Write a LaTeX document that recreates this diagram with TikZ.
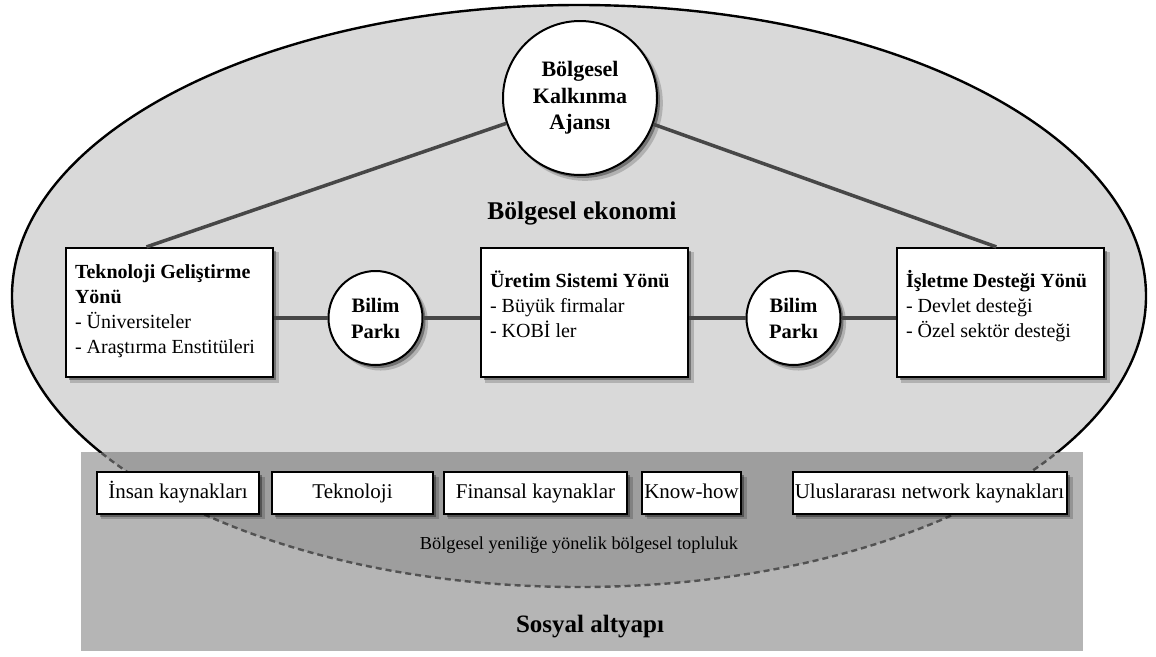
\documentclass[tikz,border=0pt]{standalone}
\usepackage{fontspec}
\setmainfont{Liberation Serif}
\usetikzlibrary{shadows,calc}

\definecolor{ecofill}{gray}{0.85}
\definecolor{basefill}{gray}{0.71}
\definecolor{overlapfill}{gray}{0.62}
\definecolor{linkgray}{gray}{0.28}
\definecolor{dashgray}{gray}{0.32}
\newcommand{\boxtextfont}{\fontsize{20}{25}\selectfont}

\begin{document}
\begin{tikzpicture}[x=1pt,y=-1pt,
  softshadow/.style={
    drop shadow={shadow xshift=5pt,shadow yshift=-5pt,shadow scale=1.01,opacity=0.18,fill=black},
    drop shadow={shadow xshift=3pt,shadow yshift=-3pt,opacity=0.35,fill=black}},
  yonbox/.style={draw=black,line width=2.2pt,fill=white,inner sep=0pt,
    minimum width=207pt,minimum height=129pt,softshadow},
  parkcircle/.style={circle,draw=black,line width=2pt,fill=white,inner sep=0pt,
    minimum size=94pt,align=center,font=\fontsize{20.5}{26}\selectfont\bfseries,softshadow},
  agencycircle/.style={circle,draw=black,line width=2pt,fill=white,inner sep=0pt,
    minimum size=154pt,align=center,font=\fontsize{22}{26.5}\selectfont\bfseries,softshadow},
  resbox/.style={draw=black,line width=2pt,fill=white,inner sep=0pt,
    minimum height=42pt,text height=15pt,text depth=5pt,
    font=\fontsize{21}{24}\selectfont,softshadow},
  link/.style={draw=linkgray,line width=3.5pt},
  zonelabel/.style={inner sep=0pt,anchor=base,font=\fontsize{25.5}{30}\selectfont\bfseries}
]
\useasboundingbox (0,0) rectangle (1156,656);

% regional economy (ellipse) and social infrastructure (band)
\fill[ecofill] (579,296) ellipse [x radius=567, y radius=291];
\fill[basefill] (81,452) rectangle (1083,651);
\begin{scope}
  \clip (579,296) ellipse [x radius=567, y radius=291];
  \fill[overlapfill] (81,452) rectangle (1083,651);
\end{scope}
\begin{scope}
  \clip (0,0) rectangle (1156,452);
  \draw[line width=2.4pt] (579,296) ellipse [x radius=567, y radius=291];
\end{scope}
\begin{scope}
  \clip (0,452) rectangle (1156,656);
  \draw[dashgray,line width=2.4pt,dash pattern=on 6pt off 4pt] (579,296) ellipse [x radius=567, y radius=291];
\end{scope}

% zone labels
\node[zonelabel] (eco) at (582,219) {Bölgesel ekonomi};
\node[inner sep=0pt,anchor=base,font=\fontsize{18.3}{22}\selectfont] (community) at (579,549) {Bölgesel yeniliğe yönelik bölgesel topluluk};
\node[zonelabel,font=\fontsize{25}{30}\selectfont\bfseries] (social) at (590,632) {Sosyal altyapı};

% agency
\node[agencycircle] (kka) at (580,98) {Bölgesel\\Kalkınma\\Ajansı};

% three directions
\node[yonbox] (t1) at (169.5,312.5) {\parbox[c][129pt][t]{189pt}{\boxtextfont\vspace*{12pt}%
  \rule{0pt}{18pt}\textbf{Teknoloji Geliştirme}\\\textbf{Yönü}\\- Üniversiteler\\- Araştırma Enstitüleri}};
\node[yonbox] (t2) at (584.5,312.5) {\parbox[c][129pt][t]{189pt}{\boxtextfont\vspace*{21pt}%
  \rule{0pt}{18pt}\textbf{Üretim Sistemi Yönü}\\- Büyük firmalar\\- KOBİ ler}};
\node[yonbox] (t3) at (1000.5,312.5) {\parbox[c][129pt][t]{189pt}{\boxtextfont\vspace*{21pt}%
  \rule{0pt}{18pt}\textbf{İşletme Desteği Yönü}\\- Devlet desteği\\- Özel sektör desteği}};

% science parks
\node[parkcircle] (bp1) at (375.5,318) {Bilim\\Parkı};
\node[parkcircle] (bp2) at (793.5,318) {Bilim\\Parkı};

% resources
\node[resbox,minimum width=162pt] (r1) at (178,493) {İnsan kaynakları};
\node[resbox,minimum width=161pt] (r2) at (352.5,493) {Teknoloji};
\node[resbox,minimum width=183pt] (r3) at (535.5,493) {Finansal kaynaklar};
\node[resbox,minimum width=99pt] (r4) at (691.5,493) {Know-how};
\node[resbox,minimum width=274pt] (r5) at (929.5,493) {Uluslararası network kaynakları};

% connectors
\coordinate (t1top) at ($(t1.north west)!0.39!(t1.north east)$);
\coordinate (t3top) at ($(t3.north west)!0.48!(t3.north east)$);
\draw[link] (kka) -- (t1top);
\draw[link] (kka) -- (t3top);
\draw[link] (t1.east |- bp1) -- (bp1);
\draw[link] (bp1) -- (t2.west |- bp1);
\draw[link] (t2.east |- bp2) -- (bp2);
\draw[link] (bp2) -- (t3.west |- bp2);
\end{tikzpicture}
\end{document}
